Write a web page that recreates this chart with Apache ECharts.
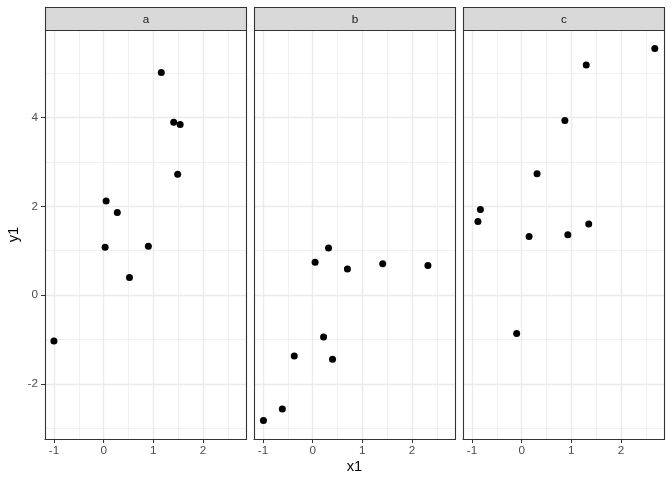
<!DOCTYPE html>
<html>
<head>
<meta charset="utf-8">
<script src="https://cdn.jsdelivr.net/npm/echarts@6/dist/echarts.min.js"></script>
<style>
html,body{margin:0;padding:0;background:#fff;}
#chart{width:672px;height:480px;}
</style>
</head>
<body>
<div id="chart"></div>
<script>
// Facet labels
const facets = ['a', 'b', 'c'];
// Panel a
const xa = [1.16, 1.41, 1.54, 1.49, 0.05, 0.275, 0.03, 0.90, 0.52, -1.00];
const ya = [5.01, 3.89, 3.84, 2.72, 2.12, 1.86, 1.08, 1.10, 0.40, -1.03];
// Panel b
const xb = [0.32, 0.05, 0.70, 1.41, 2.32, 0.22, -0.37, 0.40, -0.61, -0.99];
const yb = [1.06, 0.74, 0.59, 0.71, 0.67, -0.94, -1.37, -1.44, -2.56, -2.82];
// Panel c
const xc = [2.68, 1.30, 0.87, 0.31, -0.83, -0.88, 1.35, 0.15, 0.93, -0.10];
const yc = [5.55, 5.18, 3.93, 2.73, 1.93, 1.66, 1.60, 1.32, 1.36, -0.86];
// Ticks
const xMajor = [-1, 0, 1, 2];
const xMinor = [-0.5, 0.5, 1.5, 2.5];
const yMajor = [-2, 0, 2, 4];
const yMinor = [-3, -1, 1, 3, 5];
const xTitle = 'x1';
const yTitle = 'y1';

const xs = [xa, xb, xc];
const ys = [ya, yb, yc];

const FONT = '"Liberation Sans", Arial, sans-serif';
const panelLeft = [45, 254, 463];
const panelW = 201;
const panelTop = 30;
const panelH = 409;
const XMIN = -1.18, XMAX = 2.865, YMIN = -3.235, YMAX = 5.966;

const grids = [], xAxes = [], yAxes = [], series = [], graphics = [];
facets.forEach((f, i) => {
  grids.push({
    left: panelLeft[i], top: panelTop, width: panelW, height: panelH,
    show: false
  });
  xAxes.push({
    gridIndex: i, type: 'value', min: XMIN, max: XMAX,
    axisLine: { show: true, onZero: false, lineStyle: { color: '#333333' } },
    axisTick: { show: true, customValues: xMajor, length: 4, lineStyle: { color: '#333333' } },
    axisLabel: { customValues: xMajor, margin: 6, fontFamily: FONT, fontSize: 11.7, color: '#4D4D4D' },
    splitLine: { show: true, lineStyle: { color: '#EBEBEB', width: 1.4 } }
  });
  yAxes.push({
    gridIndex: i, type: 'value', min: YMIN, max: YMAX,
    name: i === 0 ? yTitle : '', nameLocation: 'middle', nameGap: 24,
    nameTextStyle: { fontFamily: FONT, fontSize: 14.7, color: '#000' },
    axisLine: { show: true, onZero: false, lineStyle: { color: '#333333' } },
    axisTick: { show: i === 0, customValues: yMajor, length: 4, lineStyle: { color: '#333333' } },
    axisLabel: { show: i === 0, customValues: yMajor, margin: 7, fontFamily: FONT, fontSize: 11.7, color: '#4D4D4D' },
    splitLine: { show: true, lineStyle: { color: '#EBEBEB', width: 1.4 } }
  });
  series.push({
    type: 'scatter', xAxisIndex: i, yAxisIndex: i,
    data: xs[i].map((x, k) => [x, ys[i][k]]),
    symbol: 'circle', symbolSize: 7,
    itemStyle: { color: '#000000', opacity: 1 }, z: 5, silent: true,
    markLine: {
      silent: true, z: 1, symbol: ['none', 'none'], animation: false,
      label: { show: false },
      lineStyle: { color: '#EBEBEB', width: 0.7, type: 'solid' },
      emphasis: { disabled: true },
      data: xMinor.map(v => ({ xAxis: v })).concat(yMinor.map(v => ({ yAxis: v })))
    }
  });
  graphics.push({
    type: 'rect', z: 10, silent: true,
    shape: { x: panelLeft[i] + 0.5, y: panelTop + 0.5, width: panelW, height: panelH },
    style: { fill: 'none', stroke: '#333333', lineWidth: 1.1 }
  });
  graphics.push({
    type: 'rect', z: 10,
    shape: { x: panelLeft[i] + 0.5, y: 7.5, width: panelW, height: 23 },
    style: { fill: '#D9D9D9', stroke: '#333333', lineWidth: 1.1 }
  });
  graphics.push({
    type: 'text', z: 11,
    x: panelLeft[i] + panelW / 2 + 0.5, y: 19.5,
    style: { text: f, fill: '#1A1A1A', font: '11.7px ' + FONT, align: 'center', verticalAlign: 'middle' }
  });
});
// x axis title centred under the panels
graphics.push({
  type: 'text', z: 11,
  x: (panelLeft[0] + panelLeft[2] + panelW) / 2, y: 467,
  style: { text: xTitle, fill: '#000', font: '14.7px ' + FONT, align: 'center', verticalAlign: 'middle' }
});

const chart = echarts.init(document.getElementById('chart'), null, { renderer: 'canvas' });
chart.setOption({
  backgroundColor: '#ffffff',
  animation: false,
  grid: grids,
  xAxis: xAxes,
  yAxis: yAxes,
  series: series,
  graphic: graphics
});
</script>
</body>
</html>
